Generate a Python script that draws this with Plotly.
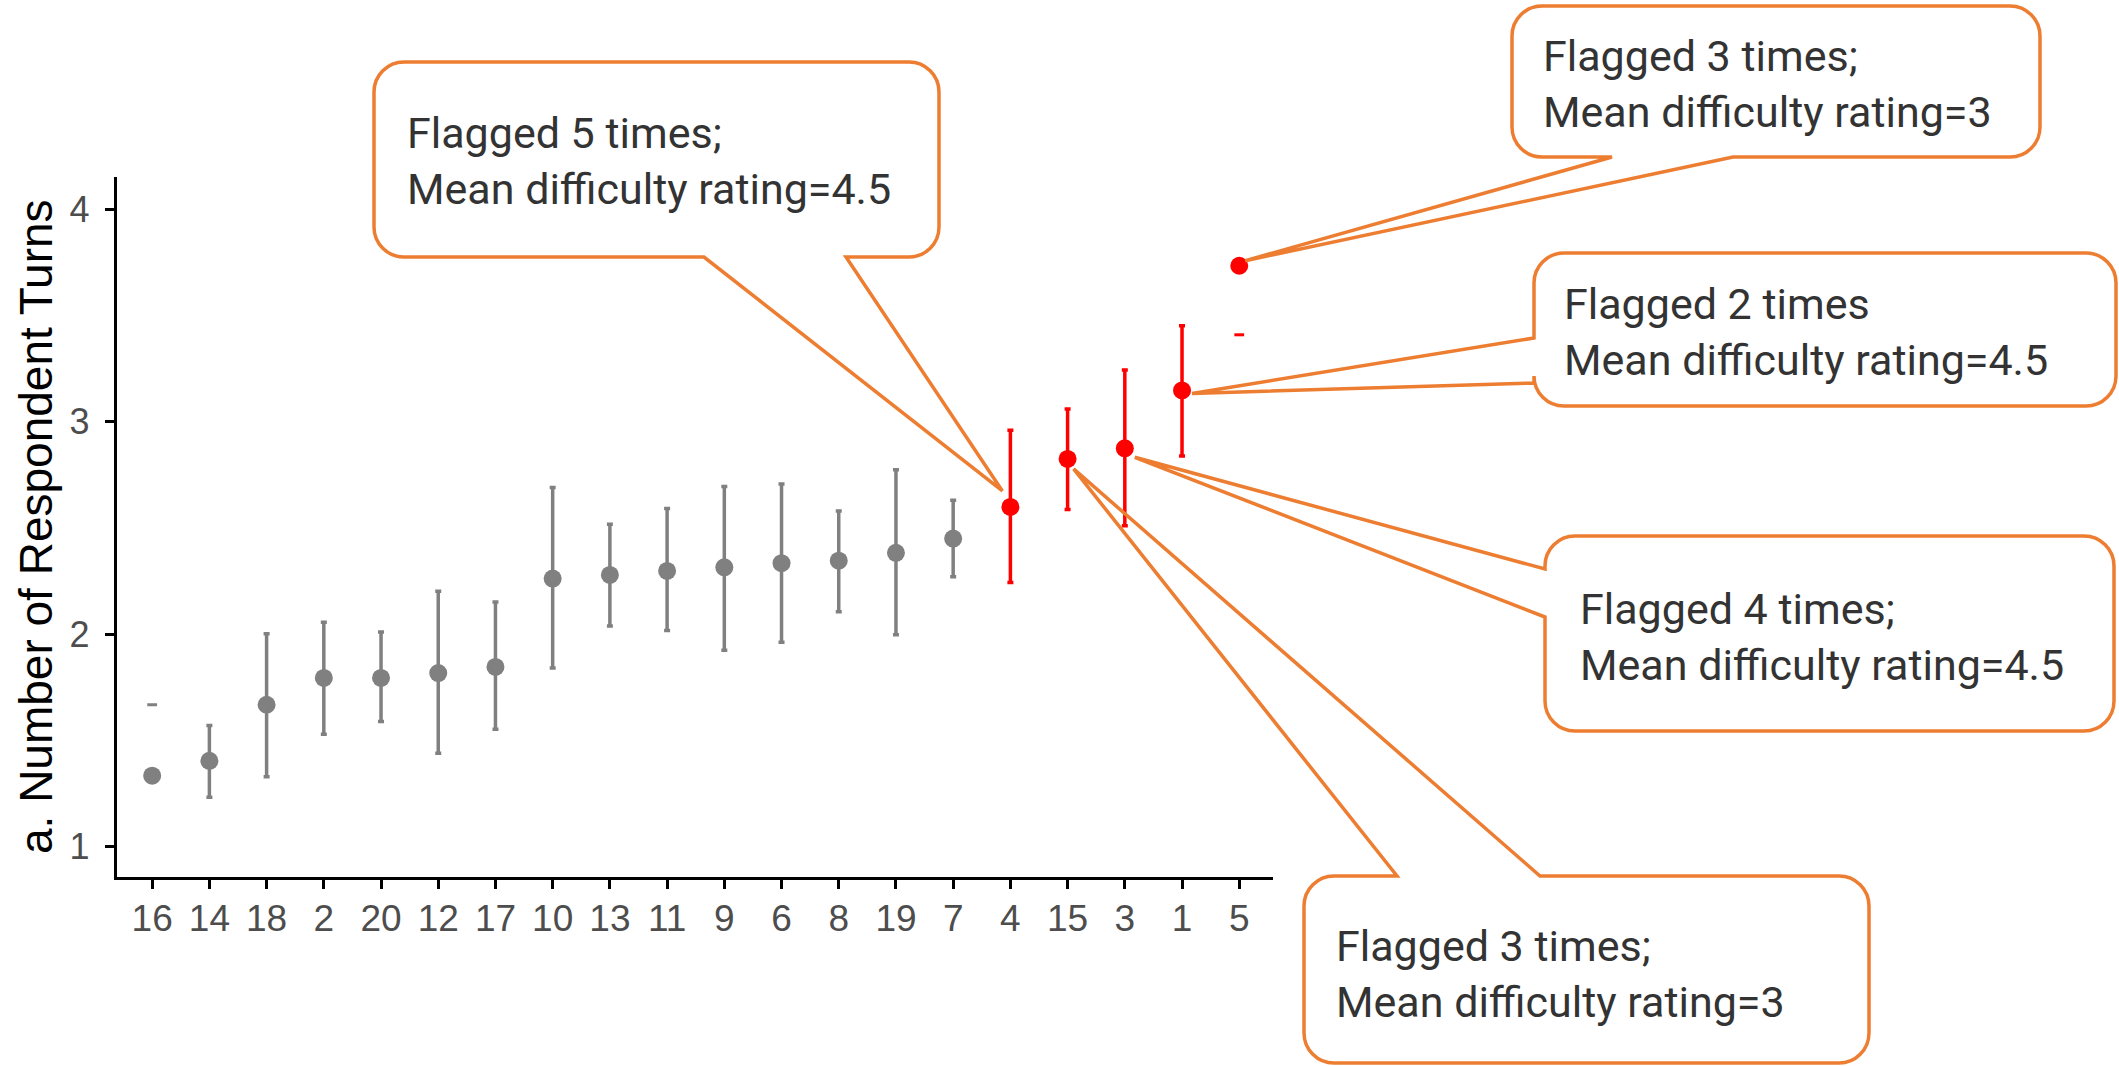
import plotly.graph_objects as go

# ---------------- data ----------------
categories = ["16", "14", "18", "2", "20", "12", "17", "10", "13", "11",
              "9", "6", "8", "19", "7", "4", "15", "3", "1", "5"]
mean_turns = [1.334, 1.404, 1.668, 1.794, 1.794, 1.817, 1.846, 2.262, 2.279, 2.298,
              2.315, 2.334, 2.346, 2.383, 2.450, 2.599, 2.825, 2.875, 3.147, 3.734]
upper_ci = [None, 1.570, 2.002, 2.056, 2.010, 2.202, 2.152, 2.690, 2.517, 2.591,
            2.695, 2.707, 2.580, 2.774, 2.630, 2.960, 3.060, 3.243, 3.452, None]
lower_ci = [None, 1.233, 1.329, 1.529, 1.589, 1.440, 1.553, 1.841, 2.039, 2.017,
            1.925, 1.962, 2.106, 1.998, 2.270, 2.243, 2.587, 2.510, 2.839, None]
# isolated interval ends that are visible without their bar
stray_cap_categories = ["16", "5"]
stray_cap_values = [1.668, 3.409]
flagged_questions = ["4", "15", "3", "1", "5"]
y_ticks = [1, 2, 3, 4]
y_title = "a. Number of Respondent Turns"

callout_targets = ["4", "5", "1", "3", "15"]
callout_flag_text = ["Flagged 5 times;", "Flagged 3 times;", "Flagged 2 times",
                     "Flagged 4 times;", "Flagged 3 times;"]
callout_rating_text = ["Mean difficulty rating=4.5", "Mean difficulty rating=3",
                       "Mean difficulty rating=4.5", "Mean difficulty rating=4.5",
                       "Mean difficulty rating=3"]

# ---------------- layout constants ----------------
W, H = 2119, 1066
X_L, X_R = 116.7, 1273.0      # plot area left/right (px)
Y_T, Y_B = 176.7, 877.3       # plot area top/bottom (px)
X_RANGE = (-0.62, 19.59)
Y_RANGE = (0.856, 4.153)
GREY = "#808080"
RED = "#ff0000"
ORANGE = "#ED7D31"
TEXT_GREY = "#333333"

# callout geometry in canvas pixels (box: L,T,R,B); tail tip offset from its point
callout_geom = [
    dict(box=(374, 62, 939, 257), side="bottom", base=(704, 846), tip=(-8, -16), text_at=(405, 161)),
    dict(box=(1512, 6, 2040, 157), side="bottom", base=(1612, 1733), tip=(6, -5), text_at=(1541, 84)),
    dict(box=(1534, 253, 2116, 406), side="left", base=(338, 383), tip=(10, 3), text_at=(1562, 332)),
    dict(box=(1545, 536, 2114, 731), side="left", base=(569, 617), tip=(10, 9), text_at=(1578, 637)),
    dict(box=(1304, 876, 1869, 1063), side="top", base=(1397, 1540), tip=(6, 10), text_at=(1334, 974)),
]


def x_to_px(i):
    return X_L + (i - X_RANGE[0]) / (X_RANGE[1] - X_RANGE[0]) * (X_R - X_L)


def y_to_px(v):
    return Y_B - (v - Y_RANGE[0]) / (Y_RANGE[1] - Y_RANGE[0]) * (Y_B - Y_T)


def P(x, y):
    return f"{x / W:.6f},{1 - y / H:.6f}"


def bubble_path(box, side, base, tip, r=30):
    L, T, R, B = box
    k = 0.5523 * r
    tx, ty = tip
    s = [f"M {P(L + r, T)}"]
    if side == "top":
        s += [f"L {P(base[0], T)}", f"L {P(tx, ty)}", f"L {P(base[1], T)}"]
    s += [f"L {P(R - r, T)}",
          f"C {P(R - r + k, T)} {P(R, T + r - k)} {P(R, T + r)}",
          f"L {P(R, B - r)}",
          f"C {P(R, B - r + k)} {P(R - r + k, B)} {P(R - r, B)}"]
    if side == "bottom":
        s += [f"L {P(base[1], B)}", f"L {P(tx, ty)}", f"L {P(base[0], B)}"]
    s += [f"L {P(L + r, B)}",
          f"C {P(L + r - k, B)} {P(L, B - r + k)} {P(L, B - r)}"]
    if side == "left":
        s += [f"L {P(L, base[1])}", f"L {P(tx, ty)}", f"L {P(L, base[0])}"]
    s += [f"L {P(L, T + r)}",
          f"C {P(L, T + r - k)} {P(L + r - k, T)} {P(L + r, T)}",
          "Z"]
    return " ".join(s)


fig = go.Figure()
idx_of = {c: i for i, c in enumerate(categories)}

for is_flagged, col in [(False, GREY), (True, RED)]:
    ids = [i for i, c in enumerate(categories) if (c in flagged_questions) == is_flagged]
    plus = [(upper_ci[i] - mean_turns[i]) if upper_ci[i] is not None else None for i in ids]
    minus = [(mean_turns[i] - lower_ci[i]) if lower_ci[i] is not None else None for i in ids]
    fig.add_trace(go.Scatter(
        x=ids, y=[mean_turns[i] for i in ids], mode="markers",
        marker=dict(size=18, color=col),
        error_y=dict(type="data", symmetric=False, array=plus, arrayminus=minus,
                     color=col, thickness=3.5, width=3),
        hoverinfo="x+y",
    ))

fig.add_trace(go.Scatter(
    x=[idx_of[c] for c in stray_cap_categories], y=stray_cap_values, mode="markers",
    marker=dict(symbol="line-ew", size=7,
                line=dict(width=3, color=[RED if c in flagged_questions else GREY
                                          for c in stray_cap_categories])),
    hoverinfo="skip",
))

shapes = []
annotations = []
for tgt, l1, l2, g in zip(callout_targets, callout_flag_text, callout_rating_text, callout_geom):
    i = idx_of[tgt]
    tip = (x_to_px(i) + g["tip"][0], y_to_px(mean_turns[i]) + g["tip"][1])
    shapes.append(dict(type="path", xref="paper", yref="paper", layer="above",
                       path=bubble_path(g["box"], g["side"], g["base"], tip),
                       line=dict(color=ORANGE, width=3.5), fillcolor="rgba(0,0,0,0)"))
    annotations.append(dict(xref="paper", yref="paper", x=g["text_at"][0] / W,
                            y=1 - g["text_at"][1] / H, xanchor="left", yanchor="middle",
                            align="left", showarrow=False, text=f"{l1}<br>{l2}",
                            font=dict(family="Roboto", size=43, color=TEXT_GREY)))

annotations.append(dict(xref="paper", yref="paper", x=36 / W, y=1 - 527 / H,
                        xanchor="center", yanchor="middle", textangle=-90, showarrow=False,
                        text=y_title,
                        font=dict(family="Liberation Sans, Arial", size=46, color="black")))

axis_common = dict(showline=True, linecolor="black", linewidth=3, ticks="outside",
                   ticklen=9, tickwidth=2.5, tickcolor="black", showgrid=False,
                   zeroline=False)
tick_font = dict(family="Liberation Sans, Arial", color="#4d4d4d")

fig.update_layout(
    width=W, height=H, margin=dict(l=0, r=0, t=0, b=0, pad=0),
    paper_bgcolor="white", plot_bgcolor="white", showlegend=False,
    xaxis=dict(domain=[X_L / W, X_R / W], range=list(X_RANGE),
               tickmode="array", tickvals=list(range(len(categories))), ticktext=categories,
               ticklabelstandoff=-3, tickfont=dict(size=37, **tick_font), **axis_common),
    yaxis=dict(domain=[1 - Y_B / H, 1 - Y_T / H], range=list(Y_RANGE),
               tickmode="array", tickvals=y_ticks, ticktext=[str(t) for t in y_ticks],
               ticklabelstandoff=8, tickfont=dict(size=36, **tick_font), **axis_common),
    shapes=shapes, annotations=annotations,
)

fig.write_html("out.html", config={"displayModeBar": False},
               post_script="document.body.style.margin='0';document.body.style.overflow='hidden';")
